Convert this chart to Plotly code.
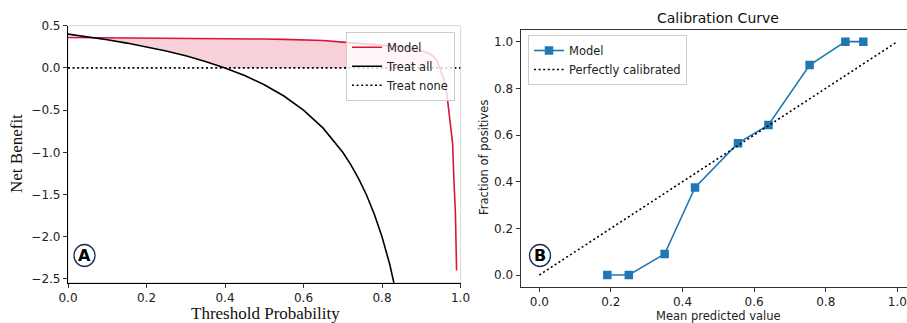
import numpy as np
import plotly.graph_objects as go

# ---------------- data ----------------
threshold_model = [0.0, 0.05, 0.1, 0.15, 0.2, 0.25, 0.3, 0.35, 0.4, 0.45, 0.5, 0.55, 0.6,
                   0.65, 0.7, 0.75, 0.8, 0.85, 0.88, 0.9, 0.92, 0.93, 0.94, 0.95, 0.96,
                   0.965, 0.97, 0.975, 0.98, 0.983, 0.987, 0.99]
net_benefit_model = [0.36, 0.359, 0.358, 0.357, 0.355, 0.354, 0.352, 0.350, 0.348, 0.345,
                     0.342, 0.338, 0.333, 0.325, 0.305, 0.29, 0.27, 0.25, 0.225, 0.205,
                     0.17, 0.14, 0.09, -0.03, -0.17, -0.30, -0.50, -0.65, -0.90, -1.30,
                     -1.72, -2.40]

threshold_all = [0.0, 0.05, 0.1, 0.15, 0.2, 0.25, 0.3, 0.35, 0.4, 0.45, 0.5, 0.55, 0.6,
                 0.65, 0.7, 0.72, 0.74, 0.76, 0.78, 0.8, 0.82, 0.84]
net_benefit_all = [0.40, 0.368, 0.333, 0.294, 0.25, 0.20, 0.143, 0.077, 0.0, -0.091, -0.20,
                   -0.333, -0.50, -0.714, -1.0, -1.143, -1.308, -1.50, -1.727, -2.0, -2.333,
                   -2.75]

treat_none_x = [0.0, 1.0]
treat_none_y = [0.0, 0.0]

calib_pred = [0.19, 0.25, 0.35, 0.435, 0.555, 0.64, 0.755, 0.855, 0.905]
calib_frac = [0.0, 0.0, 0.09, 0.375, 0.565, 0.643, 0.90, 1.0, 1.0]

perfect_x = [0.0, 1.0]
perfect_y = [0.0, 1.0]

W, H = 907, 323
RED = "#DC143C"
BLUE = "#1f77b4"
DOT = "2px,2.6px"
TICKFONT = dict(family="DejaVu Sans", size=12, color="#222")

def px_x(p):
    return p / W

def px_y(p):
    return 1 - p / H

# fill region between model and max(treat all, treat none)
xm = np.array(threshold_model)
ym = np.array(net_benefit_model)
lower = np.maximum(np.interp(xm, threshold_all, net_benefit_all), 0.0)
upper = np.maximum(ym, lower)

fig = go.Figure()

fig.add_trace(go.Scatter(x=xm, y=lower, mode="lines", line=dict(width=0, color=RED),
                         showlegend=False, hoverinfo="skip", xaxis="x", yaxis="y"))
fig.add_trace(go.Scatter(x=xm, y=upper, mode="lines", line=dict(width=0, color=RED),
                         fill="tonexty", fillcolor="rgba(220,20,60,0.2)",
                         showlegend=False, hoverinfo="skip", xaxis="x", yaxis="y"))

fig.add_trace(go.Scatter(x=threshold_model, y=net_benefit_model, mode="lines", name="Model",
                         line=dict(color=RED, width=1.6), xaxis="x", yaxis="y",
                         legend="legend"))
fig.add_trace(go.Scatter(x=threshold_all, y=net_benefit_all, mode="lines", name="Treat all",
                         line=dict(color="black", width=1.6), xaxis="x", yaxis="y",
                         legend="legend"))
fig.add_trace(go.Scatter(x=treat_none_x, y=treat_none_y, mode="lines", name="Treat none",
                         line=dict(color="black", width=1.6, dash=DOT), xaxis="x", yaxis="y",
                         legend="legend"))

fig.add_trace(go.Scatter(x=calib_pred, y=calib_frac, mode="lines+markers", name="Model",
                         line=dict(color=BLUE, width=1.6),
                         marker=dict(symbol="square", size=8.5, color=BLUE),
                         xaxis="x2", yaxis="y2", legend="legend2"))
fig.add_trace(go.Scatter(x=perfect_x, y=perfect_y, mode="lines", name="Perfectly calibrated",
                         line=dict(color="black", width=1.6, dash=DOT),
                         xaxis="x2", yaxis="y2", legend="legend2"))

axis_common = dict(showgrid=False, zeroline=False, ticks="outside", ticklen=4, tickwidth=1,
                   tickcolor="#333", tickfont=TICKFONT, showline=True, linewidth=1.2,
                   automargin=False)

fig.update_layout(
    width=W, height=H,
    margin=dict(l=0, r=0, t=0, b=0, pad=0, autoexpand=False),
    paper_bgcolor="white", plot_bgcolor="white",
    xaxis=dict(domain=[px_x(68), px_x(460.5)], range=[0, 1], anchor="y",
               tickvals=[0, 0.2, 0.4, 0.6, 0.8, 1.0], tickformat=".1f",
               linecolor="black", **axis_common),
    yaxis=dict(domain=[px_y(282.7), px_y(25.7)], range=[-2.545, 0.5], anchor="x",
               tickvals=[0.5, 0.0, -0.5, -1.0, -1.5, -2.0, -2.5], tickformat=".1f",
               linecolor="black", **axis_common),
    xaxis2=dict(domain=[px_x(520.7), 1.0], range=[-0.052, 1.027], anchor="y2",
                tickvals=[0, 0.2, 0.4, 0.6, 0.8, 1.0], tickformat=".1f",
                linecolor="#333", mirror=True, **axis_common),
    yaxis2=dict(domain=[px_y(286.7), px_y(30)], range=[-0.05, 1.05], anchor="x2",
                tickvals=[0, 0.2, 0.4, 0.6, 0.8, 1.0], tickformat=".1f",
                linecolor="#333", **axis_common),
    legend=dict(x=px_x(455), y=px_y(31.7), xanchor="right", yanchor="top",
                bgcolor="rgba(255,255,255,0.8)", bordercolor="#cccccc", borderwidth=1,
                font=dict(family="DejaVu Sans", size=11.5, color="#222"),
                itemwidth=30, tracegroupgap=0, traceorder="normal"),
    legend2=dict(x=px_x(528), y=px_y(35), xanchor="left", yanchor="top",
                 bgcolor="rgba(255,255,255,0.8)", bordercolor="#cccccc", borderwidth=1,
                 font=dict(family="DejaVu Sans", size=11.5, color="#222"),
                 itemwidth=30, tracegroupgap=0, traceorder="normal"),
    showlegend=True,
)

# light grey frame on top/right of left panel
fig.add_shape(type="rect", xref="x domain", yref="y domain", x0=0, x1=1, y0=0, y1=1,
              line=dict(color="#dddddd", width=1.2), layer="below")

annotations = [
    dict(text="Net Benefit", x=px_x(17), y=px_y(154), textangle=-90,
         font=dict(family="Liberation Serif", size=17, color="#111")),
    dict(text="Threshold Probability", x=px_x(265), y=px_y(313),
         font=dict(family="Liberation Serif", size=17, color="#111")),
    dict(text="Calibration Curve", x=px_x(718), y=px_y(18),
         font=dict(family="DejaVu Sans", size=14, color="#111")),
    dict(text="Mean predicted value", x=px_x(718), y=px_y(316),
         font=dict(family="DejaVu Sans", size=11.5, color="#222")),
    dict(text="Fraction of positives", x=px_x(484), y=px_y(158), textangle=-90,
         font=dict(family="DejaVu Sans", size=11.5, color="#222")),
    dict(text="<b>A</b>", x=px_x(84.5), y=px_y(255.5),
         font=dict(family="DejaVu Sans", size=16, color="black")),
    dict(text="<b>B</b>", x=px_x(540), y=px_y(255.5),
         font=dict(family="DejaVu Sans", size=16, color="black")),
]
for a in annotations:
    a.update(xref="paper", yref="paper", showarrow=False, xanchor="center", yanchor="middle")
    fig.add_annotation(**a)

for cx, cy in [(84.5, 255.5), (540, 255.5)]:
    fig.add_shape(type="circle", xref="paper", yref="paper",
                  x0=px_x(cx - 10.5), x1=px_x(cx + 10.5),
                  y0=px_y(cy + 11), y1=px_y(cy - 11),
                  line=dict(color="#1c2d5a", width=1.3))

fig.write_html(
    "out.html",
    config={"displayModeBar": False},
    post_script="document.body.style.margin='0';document.body.style.padding='0';"
                "document.body.style.overflow='hidden';",
)
